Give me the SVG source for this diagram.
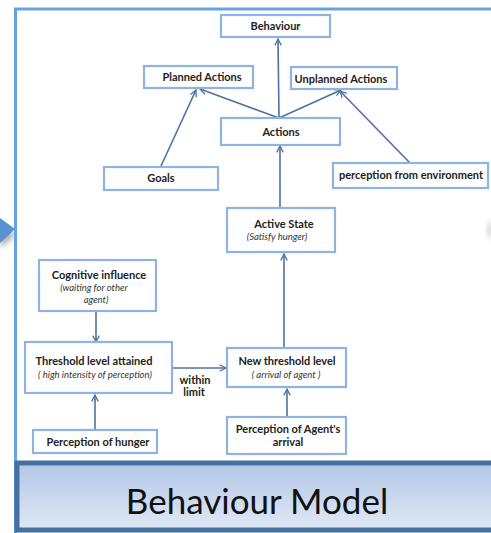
<svg xmlns="http://www.w3.org/2000/svg" width="491" height="533" viewBox="0 0 491 533">
  <defs>
    <linearGradient id="bannerFill" x1="0" y1="0" x2="0" y2="1">
      <stop offset="0" stop-color="#b3c7e8"/>
      <stop offset="1" stop-color="#e0e8f4"/>
    </linearGradient>
    <filter id="soft" x="-50%" y="-50%" width="200%" height="200%">
      <feGaussianBlur stdDeviation="3"/>
    </filter>
    <marker id="open" viewBox="0 0 10 10" refX="9" refY="5" markerWidth="8" markerHeight="8" markerUnits="userSpaceOnUse" orient="auto">
      <path d="M1,1 L9,5 L1,9" fill="none" stroke="#4d72a3" stroke-width="1.6"/>
    </marker>
    <style>
      .box { fill: #ffffff; stroke: #8fb3e0; stroke-width: 2.2; }
      .t { font-family: Lato, "Liberation Sans", sans-serif; font-weight: bold; font-size: 11px; fill: #222222; text-anchor: middle; }
      .i { font-family: Lato, "Liberation Sans", sans-serif; font-style: italic; font-size: 9.5px; fill: #333333; text-anchor: middle; }
      .edge { stroke: #4d72a3; stroke-width: 1.6; fill: none; marker-end: url(#open); }
    </style>
  </defs>

  <rect width="491" height="533" fill="#ffffff"/>

  <!-- side pointers of the slide -->
  <path d="M0,226 L16,234 L0,248 Z" fill="#000000" opacity="0.35" filter="url(#soft)"/>
  <path d="M0,218 L15,229 L0,243 Z" fill="#5b90d2"/>
  <ellipse cx="491" cy="230" rx="3" ry="8" fill="#cccccc" filter="url(#soft)"/>

  <!-- outer frame -->
  <path d="M15.5,533 L15.5,9 L491,9" fill="none" stroke="#66a2e0" stroke-width="3"/>

  <!-- title banner -->
  <g id="banner">
    <rect x="17" y="463" width="480" height="67" fill="url(#bannerFill)" stroke="#46709d" stroke-width="5"/>
    <text x="257" y="514" font-family="Lato, 'Liberation Sans', sans-serif" font-size="35" fill="#111111" text-anchor="middle">Behaviour Model</text>
  </g>

  <!-- connectors -->
  <g id="connectors">
    <line class="edge" x1="279" y1="118" x2="278" y2="39"/>
    <line class="edge" x1="279" y1="118" x2="200" y2="89"/>
    <line class="edge" x1="279" y1="118" x2="341" y2="90"/>
    <line class="edge" x1="161" y1="166" x2="196" y2="90"/>
    <line class="edge" x1="410" y1="163" x2="340" y2="91"/>
    <line class="edge" x1="280" y1="208" x2="280" y2="146"/>
    <line class="edge" x1="284" y1="348" x2="284" y2="254"/>
    <line class="edge" x1="96" y1="311" x2="96" y2="342"/>
    <line class="edge" x1="95" y1="429" x2="95" y2="395"/>
    <line class="edge" x1="287" y1="417" x2="287" y2="389"/>
    <line class="edge" x1="172" y1="368" x2="226" y2="368"/>
  </g>

  <g id="behaviour">
    <rect class="box" x="221" y="15" width="109" height="22"/>
    <text class="t" x="275.5" y="30">Behaviour</text>
  </g>
  <g id="planned-actions">
    <rect class="box" x="144" y="66" width="109" height="22"/>
    <text class="t" x="202" y="81">Planned Actions</text>
  </g>
  <g id="unplanned-actions">
    <rect class="box" x="291" y="67" width="106" height="22"/>
    <text class="t" x="341" y="83">Unplanned Actions</text>
  </g>
  <g id="actions">
    <rect class="box" x="221" y="118" width="119" height="27"/>
    <text class="t" x="281" y="136">Actions</text>
  </g>
  <g id="goals">
    <rect class="box" x="104" y="167" width="114" height="23"/>
    <text class="t" x="161" y="182">Goals</text>
  </g>
  <g id="perception-environment">
    <rect class="box" x="333" y="163" width="155" height="25"/>
    <text class="t" x="411" y="179">perception from environment</text>
  </g>
  <g id="active-state">
    <rect class="box" x="227" y="208" width="108" height="44"/>
    <text class="t" x="284" y="228">Active State</text>
    <text class="i" x="277" y="240">(Satisfy hunger)</text>
  </g>
  <g id="cognitive-influence">
    <rect class="box" x="39" y="260" width="117" height="51"/>
    <text class="t" x="99" y="279">Cognitive influence</text>
    <text class="i" x="94" y="291">(waiting for other</text>
    <text class="i" x="96" y="303">agent)</text>
  </g>
  <g id="threshold-attained">
    <rect class="box" x="25" y="342" width="147" height="51"/>
    <text class="t" x="94" y="365">Threshold level attained</text>
    <text class="i" x="95" y="378">( high intensity of perception)</text>
  </g>
  <g id="within-limit">
    <text class="t" x="195" y="384">within</text>
    <text class="t" x="194" y="396">limit</text>
  </g>
  <g id="new-threshold">
    <rect class="box" x="227" y="348" width="119" height="39"/>
    <text class="t" x="287" y="365">New threshold level</text>
    <text class="i" x="286" y="378">( arrival of agent  )</text>
  </g>
  <g id="perception-hunger">
    <rect class="box" x="33" y="430" width="124" height="23"/>
    <text class="t" x="98" y="446">Perception  of hunger</text>
  </g>
  <g id="perception-arrival">
    <rect class="box" x="227" y="417" width="119" height="37"/>
    <text class="t" x="288" y="433">Perception  of Agent's</text>
    <text class="t" x="288" y="446">arrival</text>
  </g>
</svg>
